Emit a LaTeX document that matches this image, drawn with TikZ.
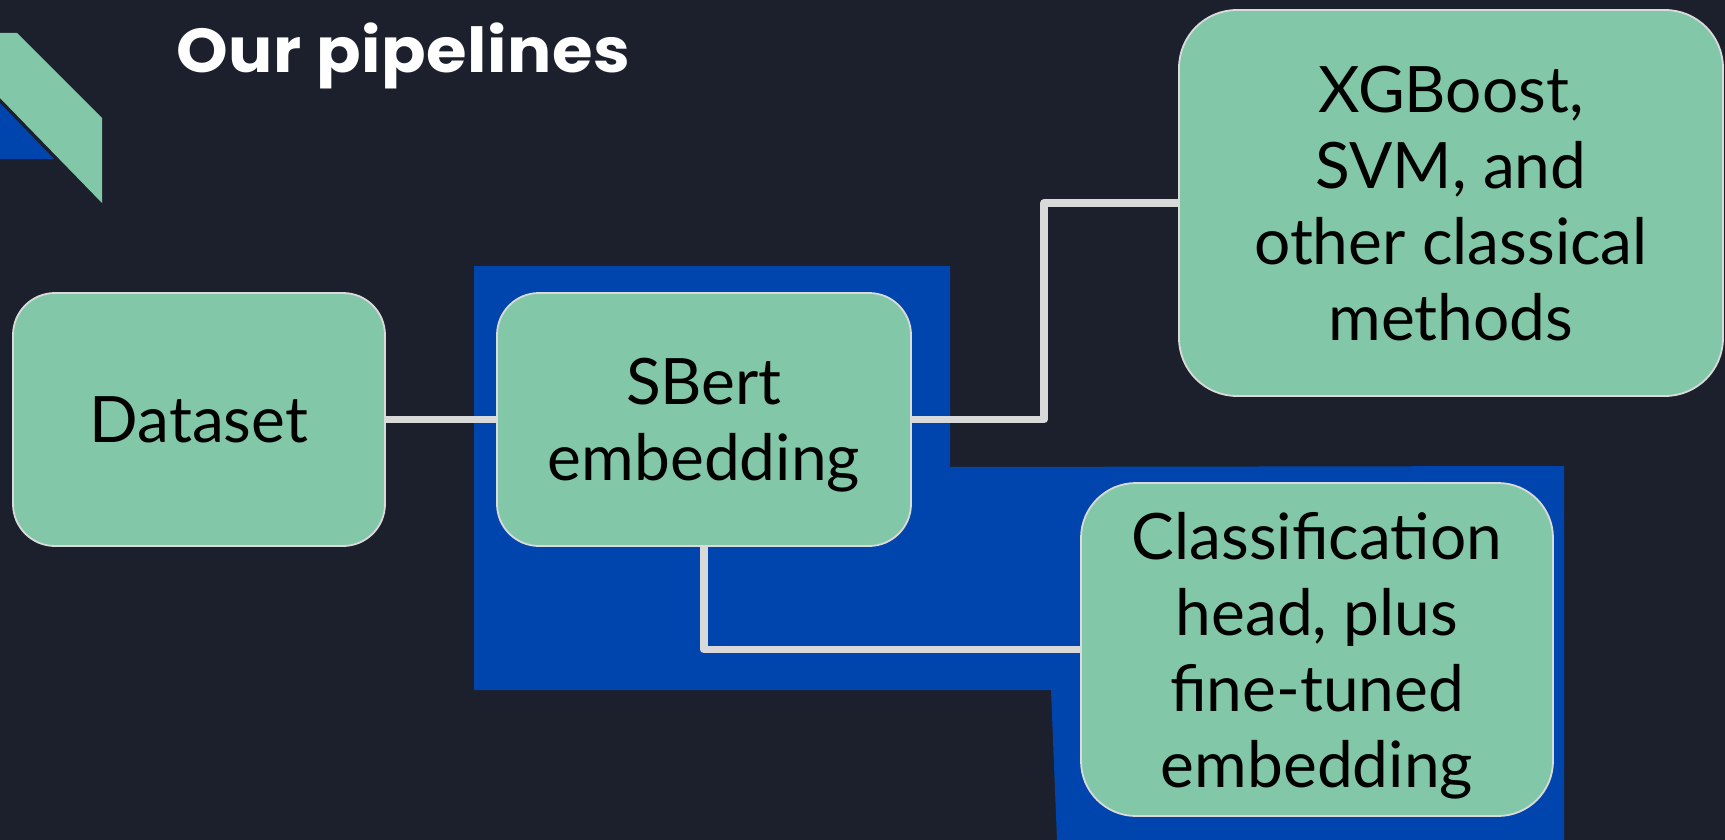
\documentclass[tikz,border=0pt]{standalone}
\usepackage{fontspec}
\setmainfont{Lato}
\newfontfamily\titlefont{Poppins}[FakeStretch=1.06, LetterSpace=1]
\definecolor{bgc}{HTML}{1B202C}
\definecolor{boxg}{HTML}{82C7A8}
\definecolor{bluec}{HTML}{0045AD}
\definecolor{linec}{HTML}{D9D9D9}
\definecolor{edgec}{HTML}{DADADA}
\begin{document}
\begin{tikzpicture}[x=1pt,y=-1pt,
  box/.style={draw=edgec, line width=1.8pt, fill=boxg, inner sep=0pt, align=center,
    text=black, text depth=0pt, font=\fontsize{64}{76}\selectfont},
  conn/.style={draw=linec, line width=7.5pt, line join=round}]
\useasboundingbox (0,0) rectangle (1725,840);
\fill[bgc] (0,0) rectangle (1725,840);
% logo
\fill[boxg] (0,33) -- (17,33) -- (102,118) -- (102,203) -- (0,98) -- cycle;
\fill[bluec] (0,103) -- (0,159) -- (54,159) -- cycle;
% blue backdrop
\fill[bluec] (474,266) -- (950,266) -- (950,467) -- (1564,466) -- (1564,840)
  -- (1057,840) -- (1051,690) -- (474,690) -- cycle;
% title
\node[anchor=base west, inner sep=0pt, text=white,
  font=\titlefont\bfseries\fontsize{62}{64}\selectfont] (title) at (176,73) {Our pipelines};
% boxes
\node[box, minimum width=372pt, minimum height=253pt, rounded corners=42pt] (data) at (199,419.5) {Dataset};
\node[box, minimum width=414pt, minimum height=253pt, rounded corners=42pt] (sbert) at (704,419.5) {SBert\\embedding};
\node[box, minimum width=544pt, minimum height=386pt, rounded corners=58pt] (xgb) at (1451,203) {XGBoost,\\SVM, and\\other classical\\methods};
\node[box, minimum width=472pt, minimum height=333pt, rounded corners=55pt] (cls) at (1317,649.5) {Classification\\head, plus\\fine-tuned\\embedding};
% connectors
\coordinate (bend) at (1044,0);
\draw[conn] (data.east) -- (sbert.west);
\draw[conn] (sbert.east) -- (sbert.east -| bend) |- (xgb.west);
\draw[conn] (sbert.south) |- (cls.west);
\end{tikzpicture}
\end{document}
